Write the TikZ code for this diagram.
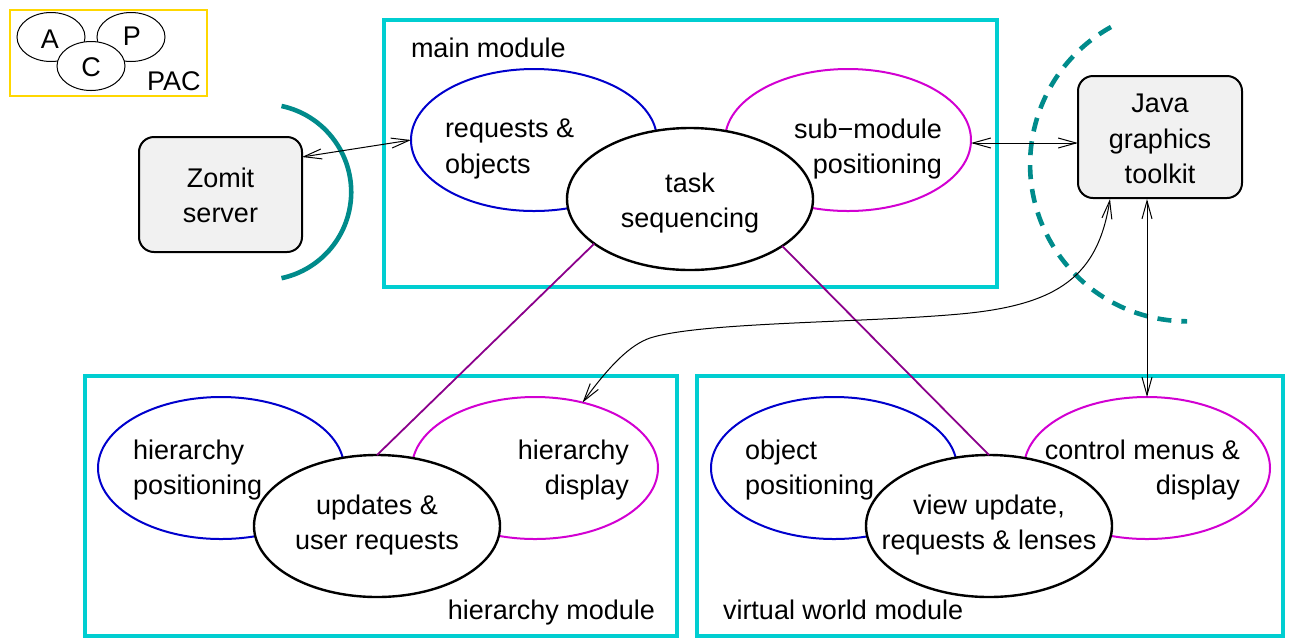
\documentclass[tikz,border=0pt]{standalone}
\usepackage{fontspec}
\setmainfont{Liberation Sans}
\usetikzlibrary{arrows.meta,shapes.geometric}
\definecolor{modcyan}{RGB}{0,206,209}
\definecolor{ellblue}{RGB}{0,0,205}
\definecolor{ellmag}{RGB}{210,0,210}
\definecolor{linkpurple}{RGB}{139,0,139}
\definecolor{arcteal}{RGB}{0,139,139}
\definecolor{pacyellow}{RGB}{255,215,0}
\definecolor{boxgray}{RGB}{241,241,241}
\begin{document}
\begin{tikzpicture}[x=0.5pt,y=-0.5pt,
  every node/.style={font=\fontsize{13.5}{17.8}\selectfont, inner sep=0pt, outer sep=0pt},
  modbox/.style={draw=modcyan, line width=2pt},
  bigell/.style={ellipse, minimum width=123pt, minimum height=71pt, fill=white, line width=1pt},
  blueell/.style={bigell, draw=ellblue},
  magell/.style={bigell, draw=ellmag},
  blackell/.style={bigell, draw=black, line width=1.2pt},
  pacell/.style={ellipse, draw=black, fill=white, minimum width=34pt, minimum height=24.5pt, line width=0.5pt},
  toolbox/.style={draw=black, fill=boxgray, rounded corners=7.5pt, line width=1pt},
  link/.style={draw=linkpurple, line width=0.9pt},
  conn/.style={draw=black, line width=0.5pt, {Straight Barb[length=9pt,width=5pt]}-{Straight Barb[length=9pt,width=5pt]}},
  teal/.style={draw=arcteal, line width=2.3pt},
]
\useasboundingbox (0,0) rectangle (1291,639);

% PAC legend
\draw[draw=pacyellow, line width=1pt] (10,10) rectangle (207,96);
\node[pacell] (pa) at (51,37) {};
\node[pacell] (pp) at (131,37) {};
\node[pacell] (pc) at (91,66) {};
\node (ta) at (50,39) {A};
\node (tp) at (132,36) {P};
\node (tc) at (91,67) {C};
\node[anchor=base west] (tpac) at (147,90) {PAC};

% module boxes
\draw[modbox] (384,20) rectangle (997,287);
\draw[modbox] (85,376) rectangle (677,636);
\draw[modbox] (697,376) rectangle (1283,636);
\node[anchor=base west] (lmain) at (411,57) {main module};
\node[anchor=base east] (lhier) at (655,619) {hierarchy module};
\node[anchor=base west] (lvw) at (723,619) {virtual world module};

% arcs
\draw[teal] (281.5,106) arc[start angle=78, end angle=-78, radius=44pt];
\draw[teal, dash pattern=on 7pt off 5pt] (1111,27) arc[start angle=119, end angle=270, radius=78.5pt];

% tool boxes
\draw[toolbox] (139,137) rectangle (302,252);
\node[align=center] (zs) at (220.5,195.5) {Zomit\\server};
\draw[toolbox] (1078,76) rectangle (1242,198);
\node[align=center] (jt) at (1160,139) {Java\\graphics\\toolkit};
\coordinate (zsE) at (302,157);
\coordinate (jtW) at (1078,143);
\coordinate (jtS1) at (1110,199);
\coordinate (jtS2) at (1147,199);

% ellipses, main module
\node[blueell] (ro) at (534,140) {};
\node[magell] (sm) at (848,140) {};
\node[blackell] (ts) at (690,199) {};
% hierarchy module
\node[blueell] (hp) at (221,468) {};
\node[magell] (hd) at (535,468) {};
\node[blackell] (ur) at (377,526) {};
% virtual world module
\node[blueell] (op) at (834,468) {};
\node[magell] (cm) at (1147,468) {};
\node[blackell] (vu) at (989,526) {};

% purple links
\draw[link] (ts.205) -- (ur.north);
\draw[link] (ts.333) -- (vu.north);

% texts
\node[anchor=west, align=left] (tro) at (445,149) {requests \&\\objects};
\node[anchor=east, align=right] (tsm) at (942,149) {sub{\char"2212}module\\positioning};
\node[align=center] (tts) at (690,203) {task\\sequencing};
\node[anchor=west, align=left] (thp) at (133,470) {hierarchy\\positioning};
\node[anchor=east, align=right] (thd) at (629,470) {hierarchy\\display};
\node[align=center] (tur) at (377,525) {updates \&\\user requests};
\node[anchor=west, align=left] (top) at (745,470) {object\\positioning};
\node[anchor=east, align=right] (tcm) at (1240,470) {control menus \&\\display};
\node[align=center] (tvu) at (989,525) {view update,\\requests \& lenses};

% connectors
\draw[conn] (zsE) -- (ro.west);
\draw[conn] (sm.east |- jtW) -- (jtW);
\draw[conn] (jtS2) -- (cm.north);
\draw[conn] (jtS1) .. controls (1098,275) and (1060,305) .. (960,314)
  .. controls (860,323) and (700,322) .. (650,338)
  .. controls (630,345) and (610,365) .. (hd.54);
\end{tikzpicture}
\end{document}
